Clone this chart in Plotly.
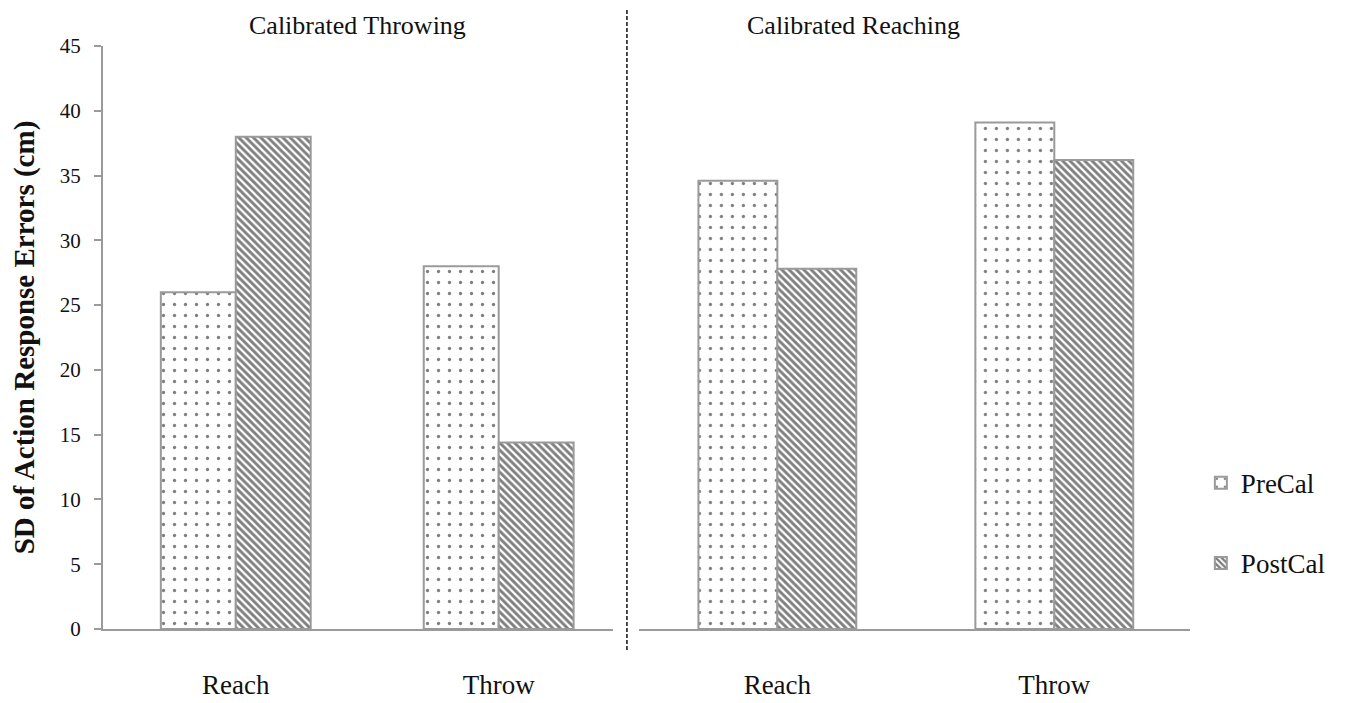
import plotly.graph_objects as go

categories = ["Reach", "Throw"]
panel_titles = ["Calibrated Throwing", "Calibrated Reaching"]
series_names = ["PreCal", "PostCal"]
throwing_pre = [26.0, 28.0]
throwing_post = [38.0, 14.4]
reaching_pre = [34.6, 39.1]
reaching_post = [27.8, 36.2]
y_ticks = [0, 5, 10, 15, 20, 25, 30, 35, 40, 45]
y_title = "SD of Action Response Errors (cm)"

FONT = "Liberation Serif"
OUTLINE = "#9a9a9a"
pre_pattern = dict(shape=".", size=11, solidity=0.07, fgcolor="black", bgcolor="white", fillmode="overlay")
post_pattern = dict(shape="\\", size=5.2, solidity=0.55, fgcolor="black", bgcolor="white", fillmode="overlay")

fig = go.Figure()
panels = [(throwing_pre, throwing_post, "x", "y"), (reaching_pre, reaching_post, "x2", "y2")]
for i, (pre, post, xa, ya) in enumerate(panels):
    fig.add_trace(go.Bar(x=categories, y=pre, name=series_names[0], xaxis=xa, yaxis=ya,
                         marker=dict(color="white", pattern=pre_pattern, line=dict(color=OUTLINE, width=2)),
                         showlegend=(i == 0), legendgroup="pre", offsetgroup="pre"))
    fig.add_trace(go.Bar(x=categories, y=post, name=series_names[1], xaxis=xa, yaxis=ya,
                         marker=dict(color="white", pattern=post_pattern, line=dict(color=OUTLINE, width=2)),
                         showlegend=(i == 0), legendgroup="post", offsetgroup="post"))

axis_common = dict(type="category", showgrid=False, zeroline=False, showline=True, linecolor=OUTLINE,
                   linewidth=2, ticks="", tickfont=dict(family=FONT, size=27, color="#111"),
                   ticklabelstandoff=31, automargin=False)
fig.update_layout(
    width=1338, height=695,
    margin=dict(l=95, r=156, t=38, b=74, autoexpand=False),
    plot_bgcolor="white", paper_bgcolor="white",
    barmode="group", bargap=0.43, bargroupgap=0,
    font=dict(family=FONT, color="#111"),
    xaxis=dict(domain=[0, 0.469], range=[-0.505, 1.434], **axis_common),
    xaxis2=dict(domain=[0.493, 1.0], range=[-0.5, 1.49], **axis_common),
    yaxis=dict(range=[0, 45], tickvals=y_ticks, showgrid=False, zeroline=False, showline=True,
               linecolor=OUTLINE, linewidth=2, ticks="outside", ticklen=7, tickcolor=OUTLINE, tickwidth=2,
               tickfont=dict(family=FONT, size=21, color="#111"), ticklabelstandoff=9, automargin=False,
               title=dict(text="<b>" + y_title + "</b>", font=dict(family=FONT, size=29, color="#111"), standoff=20)),
    yaxis2=dict(range=[0, 45], matches="y", anchor="x2", showgrid=False, zeroline=False,
                showline=False, showticklabels=False, ticks="", automargin=False),
    legend=dict(x=1.010, y=0.292, xanchor="left", yanchor="top", font=dict(family=FONT, size=27, color="#111"),
                traceorder="grouped", tracegroupgap=42, itemwidth=30, bgcolor="rgba(0,0,0,0)"),
    showlegend=True,
)
for j, t in enumerate(panel_titles):
    fig.add_annotation(text=t, xref="x domain" if j == 0 else "x2 domain", x=0.50 if j == 0 else 0.39,
                       yref="paper", y=1.036, showarrow=False, xanchor="center", yanchor="middle",
                       font=dict(family=FONT, size=26, color="#111"))
fig.add_shape(type="line", xref="paper", yref="paper", x0=0.482, x1=0.482, y0=-0.036, y1=1.079,
              line=dict(color="#111", width=1.5, dash="4px,2px"))
fig.write_html("out.html")
